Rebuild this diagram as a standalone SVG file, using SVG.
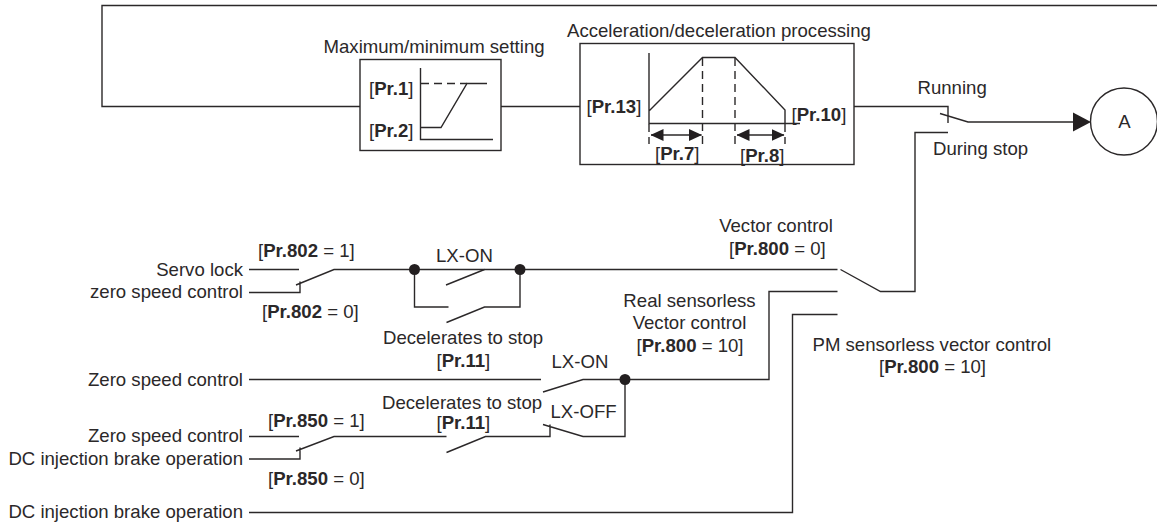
<svg xmlns="http://www.w3.org/2000/svg" width="1157" height="524" viewBox="0 0 1157 524">
<style>
text{font-family:"Liberation Sans",Arial,sans-serif;font-size:18.6px;fill:#2b2829}
.b{font-weight:bold}
.e{text-anchor:end}
.l{fill:none;stroke:#2b2829;stroke-width:1.4}
.d{stroke-dasharray:8 5}
.k{fill:#231f20;stroke:none}
</style>
<defs>
<marker id="ah" markerWidth="13" markerHeight="12" refX="12.5" refY="6" orient="auto-start-reverse" markerUnits="userSpaceOnUse"><path d="M0 0L13 6L0 12Z" fill="#231f20"/></marker>
</defs>
<rect width="1157" height="524" fill="#fff"/>
<g id="connectors" class="l">
<path class="l" d="M1157 5.5H102V106.5H360M501 106.5H580M854 106.5H948V123"/>
<path class="l" d="M940 113.5L968 122H1073"/>
<path class="l" d="M948 132.5H915V291.5H880.5L840.5 269.5"/>
<path class="k" d="M1073 112.5L1091 122L1073 131.5Z"/>
<path class="l" d="M837.5 269.5H334L296 285M300 281.5V292.5H249M249 269.5H299"/>
<path class="l" d="M414.5 269.5V307H448.5M446 285L484.5 269.5M446.5 322.5L484.5 307H520V269.5"/>
<path class="l" d="M837.5 291.5H769V379.5H583L543 392M249 379.5H541"/>
<path class="l" d="M625 379.5V436.5H583L543 424.5M550 424.5V436.5H485.5L446.5 452.5M446.5 436.5H334L296 451M300 447.5V459H249M249 436.5H299"/>
<path class="l" d="M837.5 314.5H792.5V512.5H249"/>
<circle class="k" cx="414.5" cy="269.5" r="5.5"/>
<circle class="k" cx="520" cy="269.5" r="5.5"/>
<circle class="k" cx="625" cy="379.5" r="5.5"/>
</g>
<g id="max-min">
<rect class="l" x="360" y="59.5" width="141" height="91"/>
<path class="l" d="M420.5 68V139.5H493M420.5 127.5H441L467 83.5H487"/>
<path class="l d" d="M421 83.5H467"/>
<text x="323.5" y="53">Maximum/minimum setting</text>
<text x="369" y="94.500">[<tspan class="b">Pr.1</tspan>]</text>
<text x="369" y="136.500">[<tspan class="b">Pr.2</tspan>]</text>
</g>
<g id="accel-decel">
<rect class="l" x="580" y="43.500" width="274" height="121"/>
<path class="l" d="M649 53V123.500H800M649 111L702.500 57.500H735L785 110V123.500"/>
<path class="l d" d="M702.500 58V144M735 58V144M649 124V144M785 124V144"/>
<path class="l" d="M651 135H701.500" marker-start="url(#ah)" marker-end="url(#ah)"/>
<path class="l" d="M737 135H784" marker-start="url(#ah)" marker-end="url(#ah)"/>
<text x="567" y="36.500">Acceleration/deceleration processing</text>
<text x="586.500" y="113">[<tspan class="b">Pr.13</tspan>]</text>
<text x="791.500" y="120.500">[<tspan class="b">Pr.10</tspan>]</text>
<text x="655" y="160">[<tspan class="b">Pr.7</tspan>]</text>
<text x="740" y="161.500">[<tspan class="b">Pr.8</tspan>]</text>
</g>
<g id="node-a">
<circle class="l" cx="1124" cy="121.500" r="33.500"/>
<text x="1124.500" y="128" text-anchor="middle">A</text>
</g>
<g id="labels">
<text x="917.500" y="94">Running</text>
<text x="933" y="155">During stop</text>
<text class="e" x="243" y="275.500">Servo lock</text>
<text class="e" x="243" y="298">zero speed control</text>
<text class="e" x="243" y="385.500">Zero speed control</text>
<text class="e" x="243" y="442">Zero speed control</text>
<text class="e" x="243" y="464.500">DC injection brake operation</text>
<text class="e" x="243" y="517.500">DC injection brake operation</text>
<text x="258" y="256.500">[<tspan class="b">Pr.802</tspan> = 1]</text>
<text x="262" y="318">[<tspan class="b">Pr.802</tspan> = 0]</text>
<text x="268" y="426.500">[<tspan class="b">Pr.850</tspan> = 1]</text>
<text x="268" y="485">[<tspan class="b">Pr.850</tspan> = 0]</text>
<text x="436" y="261.500">LX-ON</text>
<text x="383" y="344">Decelerates to stop</text>
<text x="436.500" y="366.500">[<tspan class="b">Pr.11</tspan>]</text>
<text x="382" y="409">Decelerates to stop</text>
<text x="436.500" y="429">[<tspan class="b">Pr.11</tspan>]</text>
<text x="550.500" y="417.500">LX-OFF</text>
<text x="551.500" y="367.500">LX-ON</text>
<text x="776" y="232" text-anchor="middle">Vector control</text>
<text x="729" y="254.500">[<tspan class="b">Pr.800</tspan> = 0]</text>
<text x="689.500" y="307" text-anchor="middle">Real sensorless</text>
<text x="689.500" y="329" text-anchor="middle">Vector control</text>
<text x="636.500" y="351.500">[<tspan class="b">Pr.800</tspan> = 10]</text>
<text x="812.500" y="351">PM sensorless vector control</text>
<text x="879" y="373">[<tspan class="b">Pr.800</tspan> = 10]</text>
</g>
</svg>
